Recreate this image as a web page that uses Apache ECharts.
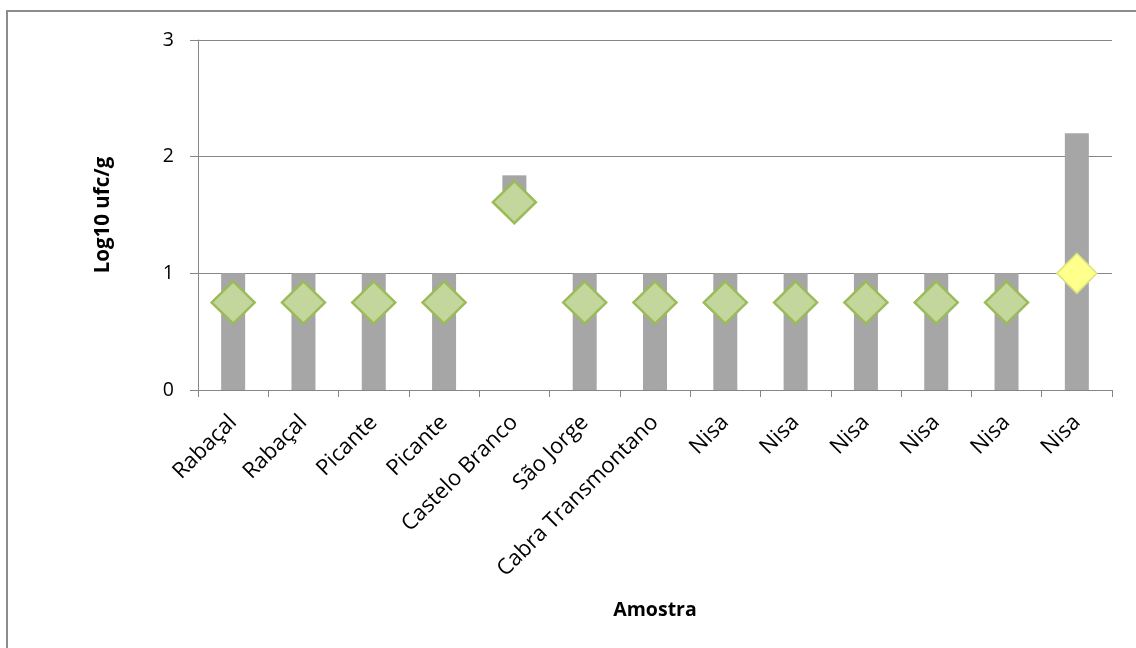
<!DOCTYPE html>
<html><head><meta charset="utf-8">
<script src="https://cdn.jsdelivr.net/npm/echarts@6/dist/echarts.min.js"></script>
<style>html,body{margin:0;padding:0;background:#fff;}#c{width:1136px;height:648px;}</style>
</head><body><div id="c"></div>
<script>
const categories = ['Rabaçal','Rabaçal','Picante','Picante','Castelo Branco','São Jorge','Cabra Transmontano','Nisa','Nisa','Nisa','Nisa','Nisa','Nisa'];
const barBase = [0,0,0,0,1.62,0,0,0,0,0,0,0,0];
const barTop = [1,1,1,1,1.84,1,1,1,1,1,1,1,2.2];
const diamondValues = [0.75,0.75,0.75,0.75,1.61,0.75,0.75,0.75,0.75,0.75,0.75,0.75,1.0];
const highlightIndex = 12;
const yTicks = [0,1,2,3];

const font = '"Open Sans", "Liberation Sans", sans-serif';
const chart = echarts.init(document.getElementById('c'));
chart.setOption({
  animation: false,
  backgroundColor: '#fff',
  graphic: [{type:'polyline', shape:{points:[[7,648],[7,11],[1136,11]]}, style:{stroke:'#8c8c8c', lineWidth:2, fill:null}}],
  grid: {left:198, right:24, top:40, bottom:258, containLabel:false},
  xAxis: {
    type:'category', data:categories,
    name:'Amostra', nameLocation:'middle', nameGap:210,
    nameTextStyle:{fontFamily:font, fontWeight:'bold', fontSize:19.5, color:'#000'},
    axisLine:{lineStyle:{color:'#868686', width:1}},
    axisTick:{show:true, length:7, lineStyle:{color:'#868686'}},
    axisLabel:{rotate:45, margin:29, fontFamily:font, fontSize:22, color:'#000', interval:0}
  },
  yAxis: {
    type:'value', min:yTicks[0], max:yTicks[yTicks.length-1], interval:1,
    name:'Log10 ufc/g', nameLocation:'middle', nameGap:84,
    nameTextStyle:{fontFamily:font, fontWeight:'bold', fontSize:20.5, color:'#000'},
    axisLine:{show:true, lineStyle:{color:'#868686'}},
    axisTick:{show:true, length:8, lineStyle:{color:'#868686'}},
    axisLabel:{margin:24, fontFamily:font, fontSize:19.5, color:'#000'},
    splitLine:{lineStyle:{color:'#868686', width:1}}
  },
  series: [
    {type:'bar', stack:'b', data:barBase, barWidth:24, itemStyle:{color:'rgba(0,0,0,0)'}, silent:true},
    {type:'bar', stack:'b', data:barTop.map((v,i)=>+(v-barBase[i]).toFixed(3)), barWidth:24, itemStyle:{color:'#A6A6A6'}},
    {type:'scatter', symbol:'diamond', symbolSize:[43,42], z:5,
     data: diamondValues.map((v,i)=> i===highlightIndex ?
        {value:v, symbolSize:[40,40], itemStyle:{color:'#FFFF8C', borderColor:'#D7E37D', borderWidth:1.5}} :
        {value:v}),
     itemStyle:{color:'#C3D69B', borderColor:'#9BBB59', borderWidth:2.5, opacity:1}}
  ]
});
</script></body></html>
